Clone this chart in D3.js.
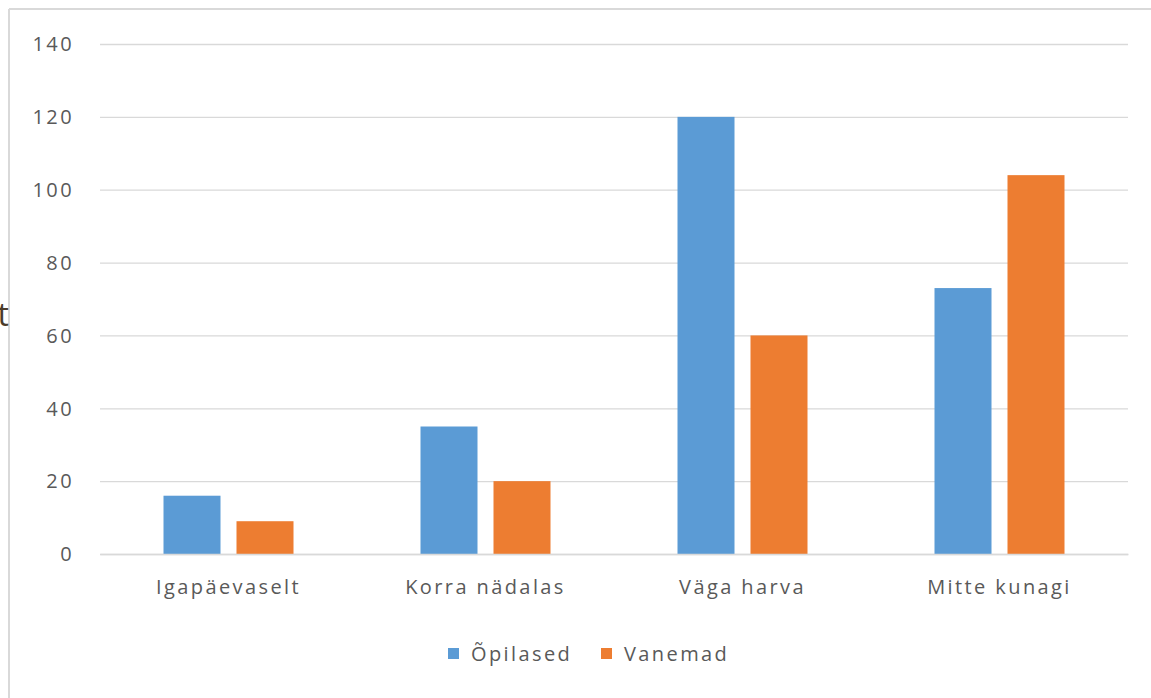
<!DOCTYPE html>
<html>
<head>
<meta charset="utf-8">
<script src="https://cdn.jsdelivr.net/npm/d3@7/dist/d3.min.js"></script>
<style>
  html, body { margin: 0; padding: 0; background: #ffffff; }
  svg { display: block; }
</style>
</head>
<body>
<svg id="chart" width="1151" height="698"></svg>
<script>
const categories = ["Igapäevaselt", "Korra nädalas", "Väga harva", "Mitte kunagi"];
const seriesNames = ["Õpilased", "Vanemad"];
const opilased = [16, 35, 120, 73];
const vanemad = [9, 20, 60, 104];
const yTicks = [0, 20, 40, 60, 80, 100, 120, 140];
const colors = ["#5b9bd5", "#ed7d31"];

const seriesValues = [opilased, vanemad];
const rows = categories.map((c, i) => ({
  cat: c,
  vals: seriesNames.map((s, j) => ({ key: s, value: seriesValues[j][i], color: colors[j] }))
}));

const svg = d3.select("#chart");
const W = 1151, H = 698;
const plot = { left: 100, right: 1128, top: 44, bottom: 554 };
const font = "'Open Sans', 'Segoe UI', sans-serif";
const textColor = "#595959";
const fs = 20, ls = 2.4;

// outer frame (partial border as in screenshot)
svg.append("line").attr("x1", 9).attr("x2", W).attr("y1", 9).attr("y2", 9)
  .attr("stroke", "#d9d9d9").attr("stroke-width", 2);
svg.append("line").attr("x1", 9).attr("x2", 9).attr("y1", 9).attr("y2", H)
  .attr("stroke", "#d9d9d9").attr("stroke-width", 2);

// stray cut-off character at the left edge
svg.append("text").attr("x", 9).attr("y", 326).attr("text-anchor", "end")
  .attr("font-family", font).attr("font-size", 32).attr("fill", "#4a3b2a").text("t");

const y = d3.scaleLinear().domain([0, 140]).range([plot.bottom, plot.top]);
const x0 = d3.scaleBand().domain(categories).range([plot.left, plot.right]).padding(0);
const groupW = 130;
const x1 = d3.scaleBand().domain(seriesNames)
  .range([(x0.bandwidth() - groupW) / 2, (x0.bandwidth() + groupW) / 2])
  .paddingInner(16 / 73).paddingOuter(0);

// gridlines + y labels via axis
const yAxis = d3.axisLeft(y).tickValues(yTicks).tickSize(-(plot.right - plot.left)).tickPadding(26);
const gy = svg.append("g").attr("transform", `translate(${plot.left},0)`).call(yAxis);
gy.select(".domain").remove();
gy.selectAll(".tick line").attr("stroke", "#d9d9d9").attr("stroke-width", 1.3);
gy.selectAll(".tick text").attr("font-family", font).attr("font-size", fs)
  .attr("letter-spacing", ls).attr("fill", textColor).attr("dy", "0.34em");

// bars
const groups = svg.append("g").selectAll("g").data(rows).join("g")
  .attr("transform", d => `translate(${x0(d.cat)},0)`);
groups.selectAll("rect").data(d => d.vals).join("rect")
  .attr("x", d => x1(d.key))
  .attr("width", x1.bandwidth())
  .attr("y", d => y(d.value))
  .attr("height", d => y(0) - y(d.value))
  .attr("fill", d => d.color);

// x axis labels
const xAxis = d3.axisBottom(x0).tickSize(0).tickPadding(26);
const gx = svg.append("g").attr("transform", `translate(0,${plot.bottom})`).call(xAxis);
gx.select(".domain").attr("stroke", "#d9d9d9").attr("stroke-width", 1.3);
gx.selectAll(".tick text").attr("font-family", font).attr("font-size", fs)
  .attr("letter-spacing", ls).attr("fill", textColor);

// legend
const legendItems = [
  { name: seriesNames[0], color: colors[0], x: 448 },
  { name: seriesNames[1], color: colors[1], x: 601 }
];
const lg = svg.append("g");
legendItems.forEach(it => {
  lg.append("rect").attr("x", it.x).attr("y", 648).attr("width", 11).attr("height", 11).attr("fill", it.color);
  lg.append("text").attr("x", it.x + 23).attr("y", 654).attr("dy", "0.35em")
    .attr("font-family", font).attr("font-size", fs).attr("letter-spacing", ls)
    .attr("fill", textColor).text(it.name);
});
</script>
</body>
</html>
